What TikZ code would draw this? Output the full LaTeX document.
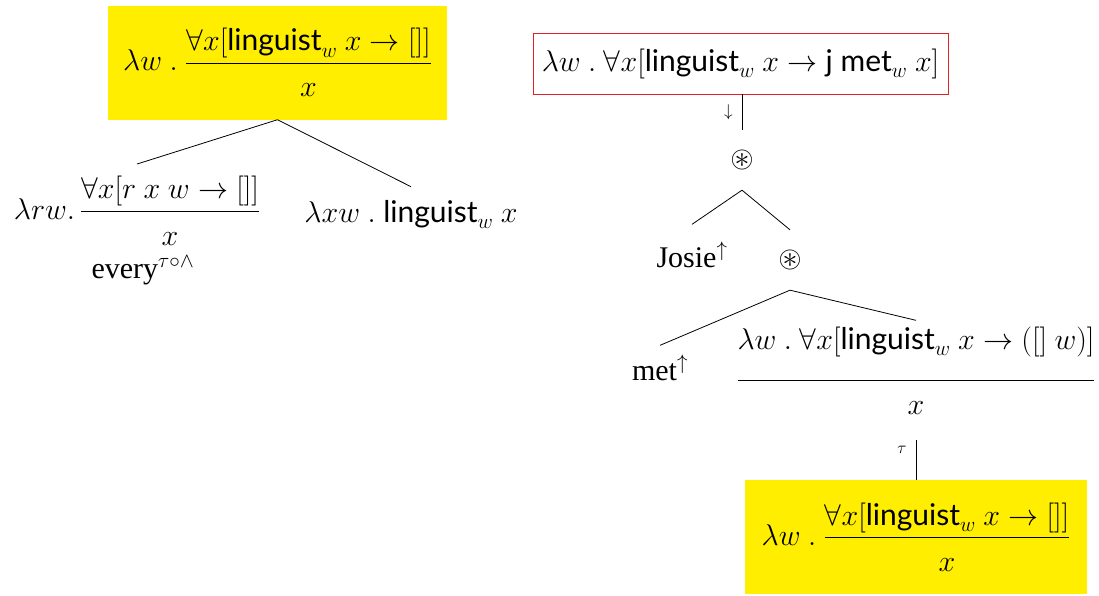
\documentclass[tikz,border=0pt]{standalone}
\usepackage{fix-cm}
\usepackage{amsmath}
\usepackage{amssymb}
\usepackage{fontspec}
\setmainfont{Liberation Serif}
\setsansfont{Lato}
\usetikzlibrary{positioning}
\definecolor{markyellow}{RGB}{255,238,0}
\definecolor{framered}{RGB}{228,32,40}
\newcommand{\ling}{\textsf{linguist}_w}
\newcommand{\tallfrac}[3][0pt]{\genfrac{}{}{1pt}{0}{#2\rule[-#1]{0pt}{0pt}}{\rule{0pt}{30pt}#3}}

\begin{document}
\begin{tikzpicture}[x=1pt, y=-1pt,
  every node/.style = {font=\fontsize{30}{36}\selectfont, inner sep=10pt},
  marked/.style = {fill=markyellow, minimum width=#1, minimum height=114pt, inner sep=0pt},
  framed/.style = {draw=framered, line width=0.9pt, minimum width=415pt, minimum height=61pt, inner sep=0pt},
  op/.style = {inner sep=20pt},
  tag/.style = {font=\fontsize{17}{20}\selectfont, inner sep=9pt},
  branch/.style = {line width=0.8pt},
  ]
  \useasboundingbox (0,0) rectangle (1099,595);
  \node[marked=339pt] (lroot) at (277.5,62.5)
        {$\lambda w\ .\ \tallfrac{\forall x[\ling\ x\to[]]}{x}$};
  \node[anchor=base, inner ysep=12pt] (lquant) at (137,219)
        {$\lambda rw.\,\tallfrac{\forall x[r\ x\ w\to[]]}{x}$};
  \node[anchor=base, inner sep=0pt] (every) at (143,278) {every$^{\tau\circ\wedge}$};
  \node[anchor=base, inner ysep=13pt] (lpred) at (411,222) {$\lambda xw\ .\ \ling\ x$};
  \draw[branch] (lroot.south) -- (lquant.north);
  \draw[branch] (lroot.south) -- (lpred.north);

  \node[framed] (rroot) at (740.5,63.5)
        {$\lambda w\ .\ \forall x[\ling\ x\to\textsf{j met}_w\ x]$};
  \node[op] (star) at (742,160) {$\circledast$};
  \node[anchor=base, inner ysep=17pt] (josie) at (692,267) {Josie$^\uparrow$};
  \node[op] (inner) at (790,260) {$\circledast$};
  \node[anchor=base, inner ysep=9pt] (met) at (660,380) {met$^\uparrow$};
  \node[anchor=base, inner sep=6pt] (scope) at (916,388)
        {$\tallfrac[28pt]{\lambda w\ .\ \forall x[\ling\ x\to([]\ w)]}{x}$};
  \node[marked=342pt] (rbox) at (916,537)
        {$\lambda w\ .\ \tallfrac{\forall x[\ling\ x\to[]]}{x}$};
  \draw[branch] (rroot.south -| star) -- node[tag, left] (down) {$\downarrow$} (star.north);
  \draw[branch] (star.south) -- (josie.north);
  \draw[branch] (star.south) -- (inner.north);
  \draw[branch] (inner.south) -- (met.north);
  \draw[branch] (inner.south) -- (scope.north);
  \draw[branch, shorten <=20pt] (scope.south) -- node[tag, left] (shift) {$\tau$} (rbox.north);
\end{tikzpicture}
\end{document}
